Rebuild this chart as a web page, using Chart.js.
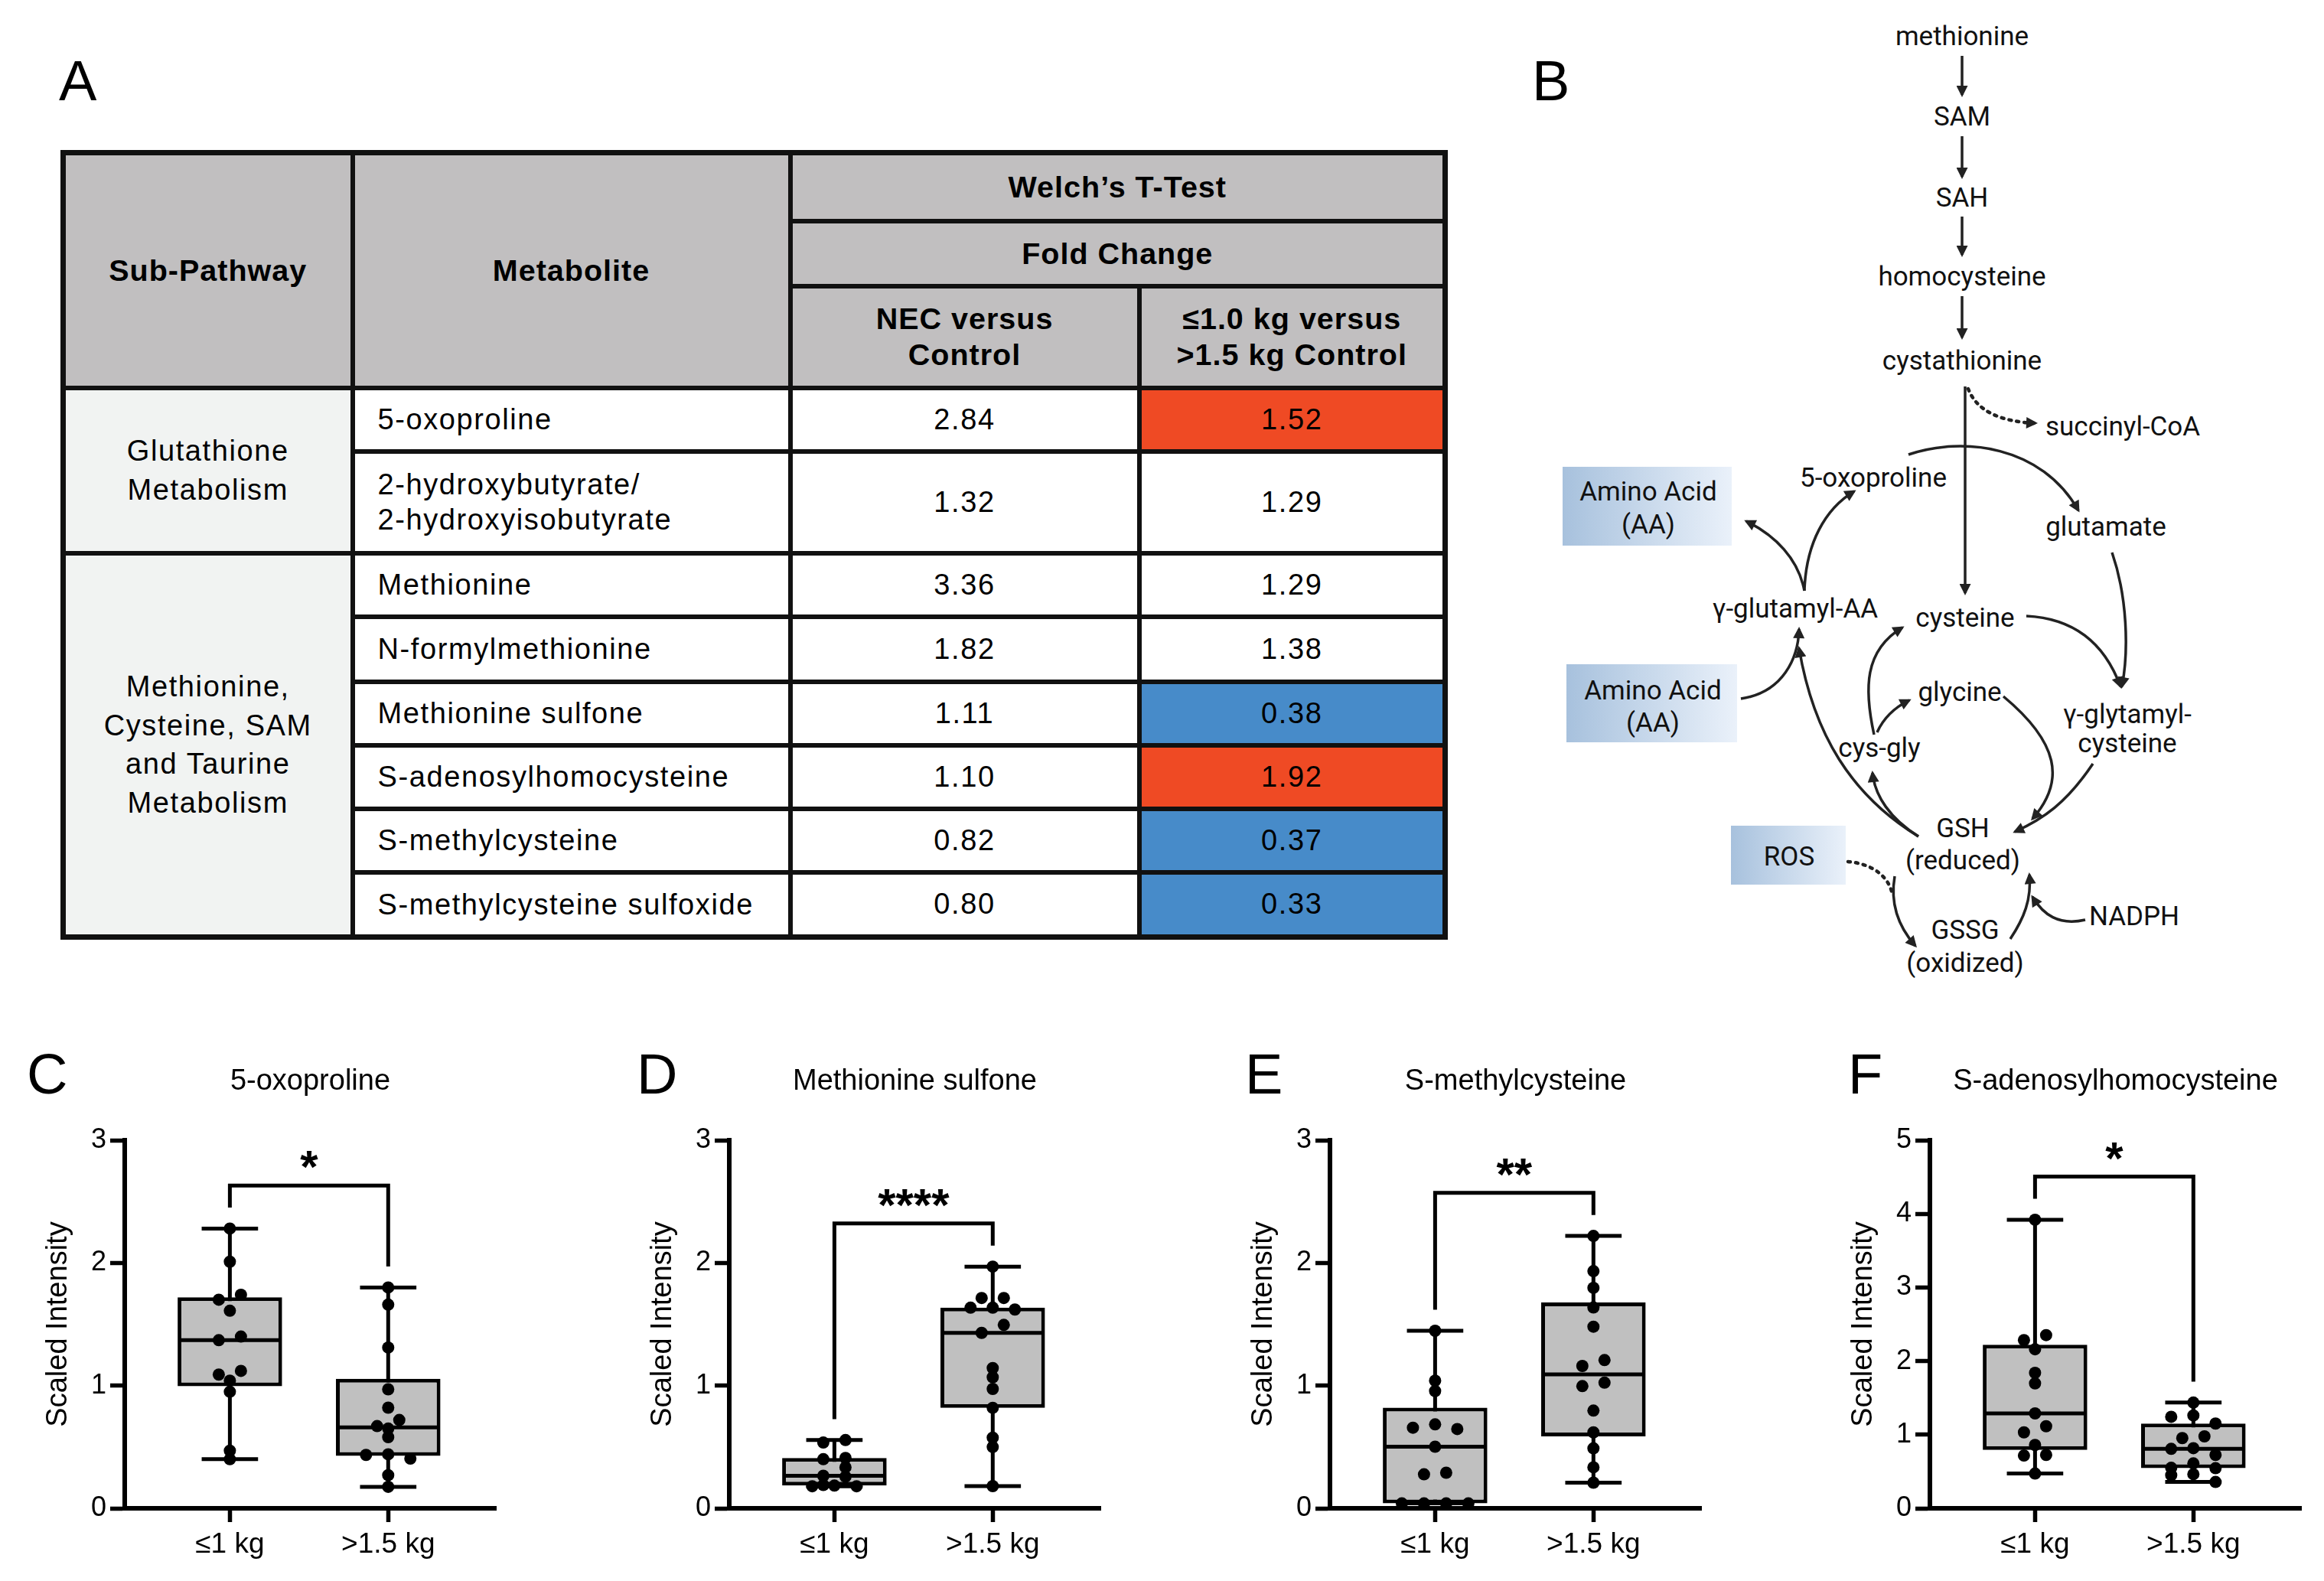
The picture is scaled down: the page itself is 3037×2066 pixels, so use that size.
<!DOCTYPE html>
<html>
<head>
<meta charset="utf-8">
<script src="https://cdn.jsdelivr.net/npm/chart.js@4.4.1/dist/chart.umd.min.js"></script>
<style>
  body { margin: 0; background: #fff; }
  #page { position: relative; width: 3037px; height: 2066px; overflow: hidden; font-family: 'Liberation Sans', Arial, sans-serif; }
  .letter { position: absolute; font-size: 74px; line-height: 1; color: #000; }
  table.fc { position: absolute; left: 79px; top: 196px; width: 1806px; border-collapse: collapse; table-layout: fixed; border: 7px solid #111; }
  table.fc th, table.fc td { border: 6px solid #111; font-size: 38px; letter-spacing: 1.6px; color: #000; padding: 0; }
  table.fc th { background: #c1bfc0; font-weight: bold; font-size: 39.5px; line-height: 1.18; letter-spacing: 1px; }
  td.sub { background: #f1f3f2; text-align: center; white-space: pre-line; line-height: 1.33; }
  td.met { text-align: left; padding-left: 30px !important; white-space: pre-line; line-height: 1.22; }
  td.num { text-align: center; }
  canvas { position: absolute; }
  svg { position: absolute; left: 0; top: 0; }
  svg text { font-family: Roboto, sans-serif; font-size: 35px; fill: #111; text-anchor: middle; dominant-baseline: middle; }
</style>
</head>
<body>
<div id="page">
  <div class="letter" style="left:77px;top:69px">A</div>
  <div class="letter" style="left:2002px;top:69px">B</div>
  <div class="letter" style="left:35px;top:1367px">C</div>
  <div class="letter" style="left:832px;top:1367px">D</div>
  <div class="letter" style="left:1627px;top:1367px">E</div>
  <div class="letter" style="left:2415px;top:1367px">F</div>
  <table class="fc" id="fc"></table>
  <svg width="3037" height="2066" viewBox="0 0 3037 2066">
    <defs>
      <marker id="ah" viewBox="0 0 10 10" refX="8" refY="5" markerUnits="userSpaceOnUse" markerWidth="17" markerHeight="15" orient="auto">
        <path d="M0,0 L10,5 L0,10 z" fill="#222"/>
      </marker>
      <linearGradient id="boxg" x1="0" x2="1" y1="0" y2="0">
        <stop offset="0" stop-color="#a7c1dd"/>
        <stop offset="1" stop-color="#eaf1fa"/>
      </linearGradient>
    </defs>
    <rect x="2042" y="610" width="221" height="103" fill="url(#boxg)"/>
    <rect x="2047" y="868" width="223" height="102" fill="url(#boxg)"/>
    <rect x="2262" y="1079" width="150" height="77" fill="url(#boxg)"/>
    <g fill="none" stroke="#222" stroke-width="3.5">
      <path d="M2564 73 L2564 124" marker-end="url(#ah)"/>
      <path d="M2564 178 L2564 231" marker-end="url(#ah)"/>
      <path d="M2564 283 L2564 333" marker-end="url(#ah)"/>
      <path d="M2564 387 L2564 441" marker-end="url(#ah)"/>
      <path d="M2568 505 L2568 775" marker-end="url(#ah)"/>
      <path d="M2572 508 Q2588 550 2660 553" stroke-dasharray="3 7" stroke-width="4.5" stroke-linecap="round" marker-end="url(#ah)"/>
      <path d="M2494 594 C2565 570 2668 582 2716 667" marker-end="url(#ah)"/>
      <path d="M2358 772 C2350 730 2320 700 2282 681" marker-end="url(#ah)"/>
      <path d="M2358 772 C2360 710 2385 665 2423 642" marker-end="url(#ah)"/>
      <path d="M2648 805 C2710 808 2750 840 2771 897" marker-end="url(#ah)"/>
      <path d="M2760 722 C2780 780 2782 850 2773 897" marker-end="url(#ah)"/>
      <path d="M2275 913 C2330 905 2350 860 2351 822" marker-end="url(#ah)"/>
      <path d="M2507 1093 C2420 1040 2370 960 2351 847" marker-end="url(#ah)"/>
      <path d="M2507 1093 C2470 1070 2450 1040 2447 1010" marker-end="url(#ah)"/>
      <path d="M2453 957 Q2465 930 2495 915" marker-end="url(#ah)"/>
      <path d="M2449 960 C2436 900 2436 850 2486 820" marker-end="url(#ah)"/>
      <path d="M2618 910 C2690 970 2700 1020 2656 1070" marker-end="url(#ah)"/>
      <path d="M2735 998 C2700 1050 2670 1070 2633 1087" marker-end="url(#ah)"/>
      <path d="M2415 1126 C2440 1128 2465 1140 2472 1165" stroke-dasharray="3 7" stroke-width="4.5" stroke-linecap="round"/>
      <path d="M2476 1145 C2470 1180 2480 1210 2503 1236" marker-end="url(#ah)"/>
      <path d="M2627 1227 C2645 1200 2655 1175 2652 1143" marker-end="url(#ah)"/>
      <path d="M2725 1202 C2690 1210 2670 1195 2656 1172" marker-end="url(#ah)"/>
    </g>
    <g transform="translate(0,4)">
      <text x="2564" y="46">methionine</text>
      <text x="2564" y="151">SAM</text>
      <text x="2564" y="257">SAH</text>
      <text x="2564" y="360">homocysteine</text>
      <text x="2564" y="470">cystathionine</text>
      <text x="2673" y="556" style="text-anchor:start">succinyl-CoA</text>
      <text x="2448" y="623">5-oxoproline</text>
      <text x="2752" y="687">glutamate</text>
      <text x="2154" y="641">Amino Acid</text>
      <text x="2154" y="684">(AA)</text>
      <text x="2346" y="794">γ-glutamyl-AA</text>
      <text x="2568" y="806">cysteine</text>
      <text x="2160" y="901">Amino Acid</text>
      <text x="2160" y="943">(AA)</text>
      <text x="2561" y="903">glycine</text>
      <text x="2456" y="976">cys-gly</text>
      <text x="2780" y="932">γ-glytamyl-</text>
      <text x="2780" y="970">cysteine</text>
      <text x="2565" y="1081">GSH</text>
      <text x="2565" y="1123">(reduced)</text>
      <text x="2338" y="1118">ROS</text>
      <text x="2568" y="1214">GSSG</text>
      <text x="2568" y="1257">(oxidized)</text>
      <text x="2789" y="1196">NADPH</text>
    </g>
  </svg>
  <canvas id="c0" width="620" height="686" style="left:38px;top:1380px"></canvas>
  <canvas id="c1" width="620" height="686" style="left:828px;top:1380px"></canvas>
  <canvas id="c2" width="620" height="686" style="left:1613px;top:1380px"></canvas>
  <canvas id="c3" width="620" height="686" style="left:2397px;top:1380px"></canvas>
</div>
<script>
// ---- table data (panel A)
const subPathwayNames = ['Glutathione\nMetabolism', 'Methionine,\nCysteine, SAM\nand Taurine\nMetabolism'];
const subPathwayRowCounts = [2, 6];
const metabolites = ['5-oxoproline', '2-hydroxybutyrate/\n2-hydroxyisobutyrate', 'Methionine', 'N-formylmethionine',
  'Methionine sulfone', 'S-adenosylhomocysteine', 'S-methylcysteine', 'S-methylcysteine sulfoxide'];
const necVsControl = [2.84, 1.32, 3.36, 1.82, 1.11, 1.10, 0.82, 0.80];
const lowVsHighControl = [1.52, 1.29, 1.29, 1.38, 0.38, 1.92, 0.37, 0.33];
const lowVsHighSignificant = [true, false, false, false, true, true, true, true];

// ---- box plot data (panels C-F)
const groupLabels = ['≤1 kg', '>1.5 kg'];
const panelTitles = ['5-oxoproline', 'Methionine sulfone', 'S-methylcysteine', 'S-adenosylhomocysteine'];
const yAxisMax = [3, 3, 3, 5];
const sigStars = ['*', '****', '**', '*'];
const oxoprolineLow = [2.28, 2.01, 1.74, 1.70, 1.61, 1.40, 1.37, 1.12, 1.09, 1.04, 0.95, 0.47, 0.40];
const oxoprolineHigh = [1.80, 1.66, 1.31, 0.97, 0.82, 0.72, 0.67, 0.65, 0.58, 0.44, 0.435, 0.405, 0.27, 0.175];
const sulfoneLow = [0.556, 0.536, 0.41, 0.40, 0.334, 0.265, 0.258, 0.19, 0.185, 0.18, 0.18];
const sulfoneHigh = [1.97, 1.714, 1.714, 1.635, 1.635, 1.62, 1.495, 1.43, 1.143, 1.068, 0.973, 0.819, 0.576, 0.50, 0.181];
const methylcysLow = [1.447, 1.04, 0.956, 0.684, 0.657, 0.646, 0.502, 0.29, 0.277, 0.04, 0.04, 0.04, 0.04];
const methylcysHigh = [2.22, 1.933, 1.797, 1.637, 1.48, 1.208, 1.16, 1.024, 0.996, 0.796, 0.619, 0.489, 0.334, 0.209];
const sahLow = [3.92, 2.353, 2.284, 2.16, 1.84, 1.697, 1.289, 1.115, 1.032, 0.86, 0.725, 0.716, 0.472];
const sahHigh = [1.436, 1.261, 1.243, 1.151, 0.977, 0.954, 0.817, 0.807, 0.725, 0.61, 0.55, 0.545, 0.463, 0.45, 0.358];
const panelSeries = [[oxoprolineLow, oxoprolineHigh], [sulfoneLow, sulfoneHigh], [methylcysLow, methylcysHigh], [sahLow, sahHigh]];

// ---- build table
(function buildTable() {
  const t = document.getElementById('fc');
  const colW = [378, 572, 456, 400];
  const headH = [89, 85, 133];
  const rowH = [83, 133, 83, 85, 83, 83, 83, 85];
  let html = '<colgroup>' + colW.map(w => `<col style="width:${w}px">`).join('') + '</colgroup>';
  html += `<tr style="height:${headH[0]}px"><th rowspan="3">Sub-Pathway</th><th rowspan="3">Metabolite</th><th colspan="2">Welch’s T-Test</th></tr>`;
  html += `<tr style="height:${headH[1]}px"><th colspan="2">Fold Change</th></tr>`;
  html += `<tr style="height:${headH[2]}px"><th>NEC versus<br>Control</th><th>≤1.0 kg versus<br>&gt;1.5 kg Control</th></tr>`;
  let r = 0;
  subPathwayNames.forEach((name, g) => {
    for (let k = 0; k < subPathwayRowCounts[g]; k++, r++) {
      const v = lowVsHighControl[r];
      const bg = lowVsHighSignificant[r] ? (v > 1 ? '#ef4a24' : '#478bc9') : '#fff';
      html += `<tr style="height:${rowH[r]}px">`;
      if (k === 0) html += `<td class="sub" rowspan="${subPathwayRowCounts[g]}">${name}</td>`;
      html += `<td class="met">${metabolites[r]}</td>`;
      html += `<td class="num">${necVsControl[r].toFixed(2)}</td>`;
      html += `<td class="num" style="background:${bg}">${v.toFixed(2)}</td></tr>`;
    }
  });
  t.innerHTML = html;
})();

// ---- box plot helpers
function quantile(sorted, p) {
  const pos = (sorted.length + 1) * p;
  const lo = Math.floor(pos), frac = pos - lo;
  if (lo < 1) return sorted[0];
  if (lo >= sorted.length) return sorted[sorted.length - 1];
  return sorted[lo - 1] + frac * (sorted[lo] - sorted[lo - 1]);
}
function boxStats(values) {
  const s = [...values].sort((a, b) => a - b);
  return { min: s[0], q1: quantile(s, 0.25), median: quantile(s, 0.5), q3: quantile(s, 0.75), max: s[s.length - 1] };
}
// simple prism-like scatter: nearby values share a row and are spread sideways
function swarm(values, groupIndex, yMax) {
  const sorted = [...values].sort((a, b) => b - a);
  const tol = 0.023 * yMax;
  const out = [];
  let bin = [];
  const flush = () => {
    const n = bin.length;
    bin.forEach((v, k) => {
      let slot;
      if (n % 2) slot = k === 0 ? 0 : (k % 2 ? -1 : 1) * Math.ceil(k / 2);
      else slot = (k % 2 ? -1 : 1) * (Math.floor(k / 2) + 0.5);
      out.push({ x: groupIndex + slot * 0.14, y: v });
    });
    bin = [];
  };
  sorted.forEach(v => { if (bin.length && bin[0] - v > tol) flush(); bin.push(v); });
  flush();
  return out;
}

const boxPlugin = {
  id: 'boxplot',
  beforeDatasetsDraw(chart, args, opts) {
    const { ctx, scales: { x, y } } = chart;
    ctx.save();
    ctx.strokeStyle = '#000';
    ctx.lineWidth = 5;
    opts.stats.forEach((s, i) => {
      const cx = x.getPixelForValue(i);
      const hw = x.getPixelForValue(i + 0.178) - cx;
      ctx.beginPath();
      ctx.moveTo(cx, y.getPixelForValue(s.min));
      ctx.lineTo(cx, y.getPixelForValue(s.max));
      [s.min, s.max].forEach(v => {
        ctx.moveTo(cx - hw, y.getPixelForValue(v));
        ctx.lineTo(cx + hw, y.getPixelForValue(v));
      });
      ctx.stroke();
    });
    ctx.restore();
  },
  afterDatasetDraw(chart, args, opts) {
    if (args.meta.type !== 'bar') return;
    const { ctx, scales: { x, y } } = chart;
    ctx.save();
    ctx.strokeStyle = '#000';
    ctx.lineWidth = 5;
    opts.stats.forEach((s, i) => {
      const yy = y.getPixelForValue(s.median);
      ctx.beginPath();
      ctx.moveTo(x.getPixelForValue(i - 0.33) + 4, yy);
      ctx.lineTo(x.getPixelForValue(i + 0.33) - 4, yy);
      ctx.stroke();
    });
    ctx.restore();
  },
  afterDraw(chart, args, opts) {
    const { ctx, chartArea, scales: { x, y } } = chart;
    const top = Math.max(...opts.stats.map(s => s.max)) + 0.117 * opts.yMax;
    const x0 = x.getPixelForValue(0), x1 = x.getPixelForValue(1);
    ctx.save();
    ctx.strokeStyle = '#000';
    ctx.lineWidth = 5;
    ctx.beginPath();
    ctx.moveTo(x0, y.getPixelForValue(opts.stats[0].max + 0.057 * opts.yMax));
    ctx.lineTo(x0, y.getPixelForValue(top));
    ctx.lineTo(x1, y.getPixelForValue(top));
    ctx.lineTo(x1, y.getPixelForValue(opts.stats[1].max + 0.057 * opts.yMax));
    ctx.stroke();
    ctx.fillStyle = '#000';
    ctx.textAlign = 'center';
    ctx.textBaseline = 'alphabetic';
    ctx.font = "bold 60px 'Liberation Sans', Arial, sans-serif";
    ctx.fillText(opts.star, (x0 + x1) / 2, y.getPixelForValue(top + 0.064 * opts.yMax) + 27);
    ctx.font = "38px 'Liberation Sans', Arial, sans-serif";
    ctx.textBaseline = 'middle';
    ctx.fillText(opts.title, (chartArea.left + chartArea.right) / 2, chartArea.top - 76);
    ctx.restore();
  }
};

Chart.defaults.font.family = "'Liberation Sans', Arial, sans-serif";
Chart.defaults.color = '#000';

panelSeries.forEach((series, p) => {
  const stats = series.map(boxStats);
  const yMax = yAxisMax[p];
  new Chart(document.getElementById('c' + p), {
    data: {
      datasets: [
        {
          type: 'bar',
          order: 2,
          data: stats.map((s, i) => ({ x: i, y: [s.q1, s.q3] })),
          backgroundColor: '#c0c0c0',
          borderColor: '#000',
          borderWidth: 5,
          borderSkipped: false,
          categoryPercentage: 0.66,
          barPercentage: 1
        },
        {
          type: 'scatter',
          order: 1,
          data: series.flatMap((vals, i) => swarm(vals, i, yMax)),
          backgroundColor: '#000',
          borderWidth: 0,
          pointRadius: 8,
          clip: false
        }
      ]
    },
    options: {
      responsive: false,
      devicePixelRatio: 1,
      animation: false,
      layout: { padding: { top: 110, right: 10, left: 0, bottom: 0 } },
      plugins: {
        legend: { display: false },
        tooltip: { enabled: false },
        boxplot: { stats, yMax, star: sigStars[p], title: panelTitles[p] }
      },
      scales: {
        x: {
          type: 'linear',
          offset: false,
          min: -0.664,
          max: 1.68,
          afterBuildTicks: s => { s.ticks = groupLabels.map((_, i) => ({ value: i })); },
          afterFit: s => { s.height = 95; },
          ticks: { callback: v => groupLabels[Math.round(v)], font: { size: 37 }, color: '#000', padding: 8, maxRotation: 0, autoSkip: false },
          grid: { offset: false, drawOnChartArea: false, drawTicks: true, tickLength: 18, tickWidth: 5.5, tickColor: '#000' },
          border: { display: true, width: 6, color: '#000' }
        },
        y: {
          min: 0,
          max: yMax,
          afterFit: s => { s.width = 125; },
          ticks: { stepSize: 1, font: { size: 36 }, color: '#000', padding: 5 },
          grid: { drawOnChartArea: false, drawTicks: true, tickLength: 19, tickWidth: 5.5, tickColor: '#000' },
          border: { display: true, width: 6, color: '#000' },
          title: { display: true, text: 'Scaled Intensity', font: { size: 38 }, color: '#000', padding: { top: 16, bottom: 0 } }
        }
      }
    },
    plugins: [boxPlugin]
  });
});
</script>
</body>
</html>
